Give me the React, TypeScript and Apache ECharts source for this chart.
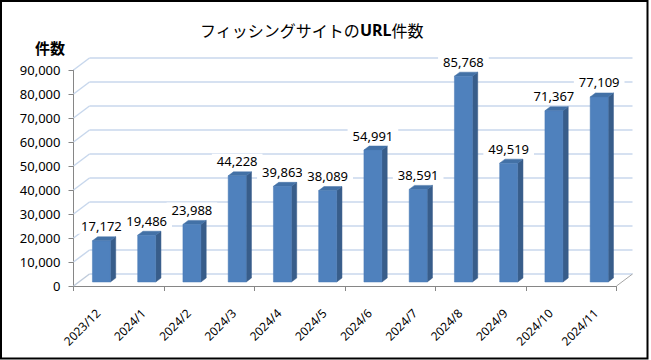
import React, { useEffect, useRef } from "react";
import * as echarts from "echarts";

const categories = [
  "2023/12", "2024/1", "2024/2", "2024/3", "2024/4", "2024/5",
  "2024/6", "2024/7", "2024/8", "2024/9", "2024/10", "2024/11",
];
const urlCounts = [17172, 19486, 23988, 44228, 39863, 38089, 54991, 38591, 85768, 49519, 71367, 77109];
const yTickValues = [0, 10000, 20000, 30000, 40000, 50000, 60000, 70000, 80000, 90000];

const titleMain = "フィッシングサイトの";
const titleBold = "URL";
const titleTail = "件数";
const yName = "件数";

// 3D projection settings (pixels)
const WALL_DX = 16;
const WALL_DY = -12;
const BAR_DX = 5.3;
const BAR_DY = -4;
const BAR_W = 18;

const GRID_LEFT = 73.5;
const GRID_TOP = 70;
const GRID_W = 543;
const GRID_H = 216;

const fmt = (v: number) => v.toLocaleString("en-US");

export default function App() {
  const ref = useRef<HTMLDivElement>(null);
  useEffect(() => {
    document.body.style.margin = "0";
    const chart = echarts.init(ref.current!, undefined, { renderer: "svg" });

    const wallColor = "#C8D7EC";
    const axisColor = "#868686";

    const option: any = {
      animation: false,
      backgroundColor: "#fff",
      title: {
        text: `{a|${titleMain}}{b|${titleBold}}{a|${titleTail}}`,
        left: 195,
        top: 17,
        textStyle: {
          fontWeight: "normal",
          rich: {
            a: { fontSize: 16, fontFamily: "Noto Sans CJK JP", fontWeight: "normal", color: "#000" },
            b: { fontSize: 16, fontFamily: "Noto Sans", fontWeight: "bold", color: "#000" },
          },
        },
      },
      graphic: [
        {
          type: "rect",
          shape: { x: 1, y: 1, width: 646.5, height: 357.5 },
          style: { fill: "none", stroke: "#000", lineWidth: 2 },
          z: 100,
        },
        {
          type: "text",
          left: 35,
          top: 40,
          style: {
            text: yName,
            fontSize: 15,
            fontWeight: "bold",
            fontFamily: "Noto Sans CJK JP",
            fill: "#000",
          },
        },
      ],
      grid: [
        { left: GRID_LEFT, top: GRID_TOP, width: GRID_W, height: GRID_H },
        { left: GRID_LEFT + WALL_DX, top: GRID_TOP + WALL_DY, width: GRID_W, height: GRID_H },
        { left: GRID_LEFT + 2, top: GRID_TOP, width: GRID_W, height: GRID_H },
      ],
      xAxis: [
        {
          gridIndex: 0,
          type: "category",
          data: categories,
          axisLine: { show: true, lineStyle: { color: axisColor, width: 1 } },
          axisTick: { show: true, length: 5, lineStyle: { color: axisColor } },
          axisLabel: { show: false },
          splitLine: { show: false },
        },
        {
          gridIndex: 1,
          type: "category",
          data: categories,
          show: false,
        },
        {
          gridIndex: 2,
          type: "category",
          data: categories,
          axisLine: { show: false },
          axisTick: { show: false },
          axisLabel: {
            show: true,
            rotate: 45,
            margin: 25,
            interval: 0,
            fontSize: 12,
            fontFamily: "Noto Sans",
            color: "#000",
          },
        },
      ],
      yAxis: [
        {
          gridIndex: 0,
          type: "value",
          min: 0,
          max: 90000,
          interval: 10000,
          axisLine: { show: true, lineStyle: { color: axisColor } },
          axisTick: { show: true, length: 5, lineStyle: { color: axisColor } },
          axisLabel: {
            margin: 13,
            fontSize: 13,
            fontFamily: "Noto Sans",
            color: "#000",
            formatter: (v: number) => fmt(v),
          },
          splitLine: { show: false },
        },
        {
          gridIndex: 1,
          type: "value",
          min: 0,
          max: 90000,
          interval: 10000,
          axisLine: { show: false },
          axisTick: { show: false },
          axisLabel: { show: false },
          splitLine: { show: true, lineStyle: { color: wallColor, width: 1.5 } },
        },
        {
          gridIndex: 2,
          type: "value",
          min: 0,
          max: 90000,
          show: false,
        },
      ],
      series: [
        {
          // left wall and floor edges
          type: "custom",
          xAxisIndex: 0,
          yAxisIndex: 0,
          z: 1,
          silent: true,
          data: yTickValues.map((v) => [0, v]),
          renderItem: (params: any, api: any) => {
            const v = api.value(1);
            const p = api.coord([0, v]);
            const bw = api.size([1, 0])[0];
            const x0 = p[0] - bw / 2;
            const children: any[] = [
              {
                type: "line",
                shape: { x1: x0, y1: p[1], x2: x0 + WALL_DX, y2: p[1] + WALL_DY },
                style: { stroke: v === 0 ? "#BFCBDB" : wallColor, lineWidth: 1.5 },
              },
            ];
            if (v === 0) {
              const pr = api.coord([categories.length - 1, 0]);
              const xr = pr[0] + bw / 2;
              children.push({
                type: "line",
                shape: { x1: xr, y1: pr[1], x2: xr + WALL_DX, y2: pr[1] + WALL_DY },
                style: { stroke: "#A6A6A6", lineWidth: 1 },
              });
            }
            return { type: "group", children };
          },
        },
        {
          // 3D bars
          type: "custom",
          xAxisIndex: 0,
          yAxisIndex: 0,
          z: 5,
          data: urlCounts.map((v, i) => [i, v]),
          renderItem: (params: any, api: any) => {
            const i = api.value(0);
            const v = api.value(1);
            const top = api.coord([i, v]);
            const bot = api.coord([i, 0]);
            const cx = top[0] + BAR_DX;
            const x0 = cx - BAR_W / 2;
            const x1 = cx + BAR_W / 2;
            const yt = top[1] + BAR_DY;
            const yb = bot[1] + BAR_DY;
            return {
              type: "group",
              children: [
                {
                  type: "polygon",
                  shape: {
                    points: [
                      [x1, yt], [x1 + BAR_DX, yt + BAR_DY], [x1 + BAR_DX, yb + BAR_DY], [x1, yb],
                    ],
                  },
                  style: { fill: "#385D8A", stroke: "#385D8A", lineWidth: 0.5 },
                },
                {
                  type: "polygon",
                  shape: {
                    points: [
                      [x0, yt], [x0 + BAR_DX, yt + BAR_DY], [x1 + BAR_DX, yt + BAR_DY], [x1, yt],
                    ],
                  },
                  style: { fill: "#4371A6", stroke: "#4371A6", lineWidth: 0.5 },
                },
                {
                  type: "rect",
                  shape: { x: x0, y: yt, width: BAR_W, height: yb - yt },
                  style: { fill: "#4F81BD", stroke: "#4A7AB4", lineWidth: 0.5 },
                },
              ],
            };
          },
        },
        {
          // data labels
          type: "custom",
          xAxisIndex: 0,
          yAxisIndex: 0,
          z: 10,
          data: urlCounts.map((v, i) => [i, v]),
          renderItem: (params: any, api: any) => {
            const i = api.value(0);
            const v = api.value(1);
            const top = api.coord([i, v]);
            const cx = top[0] + BAR_DX;
            const yTopFace = top[1] + 2 * BAR_DY;
            return {
              type: "text",
              x: cx,
              y: yTopFace - 10.5,
              style: {
                text: fmt(v),
                align: "center",
                verticalAlign: "middle",
                fontSize: 13,
                fontFamily: "Noto Sans",
                fill: "#000",
                backgroundColor: "#fff",
                padding: [1, 5],
              },
            };
          },
        },
      ],
    };

    chart.setOption(option);
    return () => chart.dispose();
  }, []);

  return <div ref={ref} style={{ width: 651, height: 360 }} />;
}
